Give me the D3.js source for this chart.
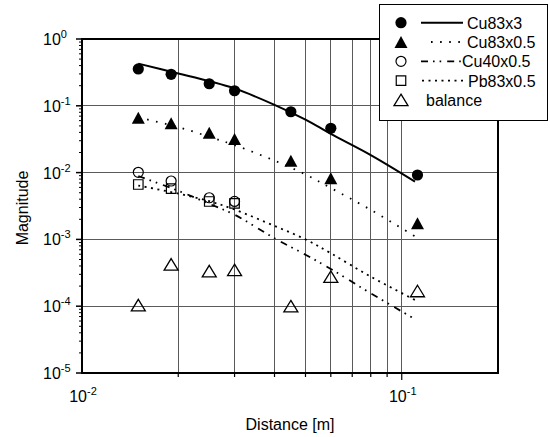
<!DOCTYPE html>
<html><head><meta charset="utf-8">
<script src="https://cdn.jsdelivr.net/npm/d3@7"></script>
<style>
body{margin:0;background:#fff;}
svg{display:block;font-family:"Liberation Sans",Arial,Helvetica,sans-serif;}
</style></head>
<body>
<svg id="chart" width="550" height="437"></svg>
<script>
// ---- data ----
const distances = [0.015, 0.019, 0.025, 0.03, 0.045, 0.06, 0.112];
const cu83x3 = [0.356, 0.296, 0.214, 0.168, 0.0814, 0.046, 0.0092];
const cu83x05 = [0.066, 0.0547, 0.0396, 0.0318, 0.0151, 0.0082, 0.00174];
const cu40x05 = [0.0101, 0.00748, 0.0042, 0.0037];
const pb83x05 = [0.00664, 0.00574, 0.00369, 0.00347];
const balance = [1.04e-4, 4.24e-4, 3.36e-4, 3.49e-4, 1.0e-4, 2.77e-4, 1.69e-4];

const fitDist = [0.015, 0.02, 0.025, 0.03, 0.04, 0.05, 0.06, 0.08, 0.11];
const fitCu83x3 = [0.428, 0.305, 0.234, 0.182, 0.1035, 0.0621, 0.038, 0.0183, 0.00733];
const fitCu83x05 = [0.067, 0.048, 0.0344, 0.0258, 0.0151, 0.0094, 0.00588, 0.00277, 0.00111];
const fitCu40x05 = [0.0089, 0.00534, 0.00341, 0.00234, 0.00104, 0.00059, 0.000361, 0.000156, 0.000064];
const fitPb83x05 = [0.0064, 0.00485, 0.00373, 0.0028, 0.00159, 0.001, 0.00062, 0.000277, 0.000124];

const seriesNames = ["Cu83x3", "Cu83x0.5", "Cu40x0.5", "Pb83x0.5", "balance"];
const xTickExps = [-2, -1];
const yTickExps = [0, -1, -2, -3, -4, -5];
const xTitle = "Distance [m]";
const yTitle = "Magnitude";

// ---- layout ----
const svg = d3.select("#chart");
const L = 82, R = 498, T = 39, B = 373;
const x = d3.scaleLog().domain([0.01, 0.2]).range([L, R]);
const y = d3.scaleLog().domain([1e-5, 1]).range([B, T]);

const g = svg.append("g");

// gridlines
const vGrid = [0.02,0.03,0.04,0.05,0.06,0.07,0.08,0.09,0.1];
g.selectAll(".vg").data(vGrid).join("line")
  .attr("x1", d => x(d)).attr("x2", d => x(d))
  .attr("y1", T).attr("y2", B)
  .attr("stroke", "#5a5a5a").attr("stroke-width", 1).attr("shape-rendering","crispEdges");
const hGrid = [1e-1, 1e-2, 1e-3, 1e-4];
g.selectAll(".hg").data(hGrid).join("line")
  .attr("x1", L).attr("x2", R)
  .attr("y1", d => y(d)).attr("y2", d => y(d))
  .attr("stroke", "#5a5a5a").attr("stroke-width", 1).attr("shape-rendering","crispEdges");

// fit lines
const line = d3.line().x(d => x(d[0])).y(d => y(d[1])).curve(d3.curveCatmullRom.alpha(0.5));
function drawFit(vals, dash, w) {
  g.append("path").datum(fitDist.map((d, i) => [d, vals[i]]))
    .attr("d", line).attr("fill", "none").attr("stroke", "#000")
    .attr("stroke-width", w).attr("stroke-dasharray", dash);
}
drawFit(fitCu83x3, null, 2);
drawFit(fitCu83x05, "1.6,7.5", 1.8);
drawFit(fitCu40x05, "7,5,1.6,5,1.6,6", 1.8);
drawFit(fitPb83x05, "2,4.5", 1.8);

// markers
function triPath(w, h) {
  return `M0,${-h/2}L${w/2},${h/2}L${-w/2},${h/2}Z`;
}
function sqPath(s) { return `M${-s/2},${-s/2}h${s}v${s}h${-s}Z`; }

const markerDefs = [
  {vals: cu83x3, draw: sel => sel.append("circle").attr("r", 5.6).attr("fill", "#000")},
  {vals: cu83x05, draw: sel => sel.append("path").attr("d", triPath(13, 12)).attr("fill", "#000")},
  {vals: cu40x05, draw: sel => sel.append("circle").attr("r", 5).attr("fill", "none").attr("stroke", "#000").attr("stroke-width", 1.2)},
  {vals: pb83x05, draw: sel => sel.append("path").attr("d", sqPath(9.5)).attr("fill", "none").attr("stroke", "#000").attr("stroke-width", 1.2)},
  {vals: balance, draw: sel => sel.append("path").attr("d", triPath(14, 11.5)).attr("fill", "none").attr("stroke", "#000").attr("stroke-width", 1.3)}
];
markerDefs.forEach(m => {
  const pts = m.vals.map((v, i) => [distances[i], v]);
  const sel = g.selectAll(null).data(pts).join("g")
    .attr("transform", d => `translate(${x(d[0])},${y(d[1])})`);
  m.draw(sel);
});

// frame
g.append("rect").attr("x", L).attr("y", T).attr("width", R - L).attr("height", B - T)
  .attr("fill", "none").attr("stroke", "#000").attr("stroke-width", 2);

// y ticks
const yMinor = [];
for (let e = -5; e < 0; e++) for (let k = 2; k <= 9; k++) yMinor.push(k * Math.pow(10, e));
g.selectAll(".ymi").data(yMinor).join("line")
  .attr("x1", L - 3).attr("x2", L).attr("y1", d => y(d)).attr("y2", d => y(d))
  .attr("stroke", "#000").attr("stroke-width", 1);
g.selectAll(".yma").data(yTickExps).join("line")
  .attr("x1", L - 6).attr("x2", L).attr("y1", d => y(Math.pow(10, d))).attr("y2", d => y(Math.pow(10, d)))
  .attr("stroke", "#000").attr("stroke-width", 1.5);
// x ticks
g.selectAll(".xmi").data(vGrid).join("line")
  .attr("x1", d => x(d)).attr("x2", d => x(d)).attr("y1", B).attr("y2", d => B + (d === 0.1 ? 7 : 4))
  .attr("stroke", "#000").attr("stroke-width", 1.2);

// tick labels
const yl = g.selectAll(".yl").data(yTickExps).join("text")
  .attr("x", 43).attr("y", d => y(Math.pow(10, d)) + 6)
  .attr("font-size", 16).attr("fill", "#000");
yl.append("tspan").text("10");
yl.append("tspan").attr("dy", -7).attr("font-size", 11).text(d => d);

const xl = g.selectAll(".xl").data(xTickExps).join("text")
  .attr("x", d => x(Math.pow(10, d)) + 1).attr("y", 402)
  .attr("text-anchor", "middle").attr("font-size", 16).attr("fill", "#000");
xl.append("tspan").text("10");
xl.append("tspan").attr("dy", -7).attr("font-size", 11).text(d => d);

// axis titles
svg.append("text").attr("x", (L + R) / 2).attr("y", 430).attr("text-anchor", "middle")
  .attr("font-size", 16).text(xTitle);
svg.append("text").attr("transform", `translate(28,${(T + B) / 2 + 2}) rotate(-90)`)
  .attr("text-anchor", "middle").attr("font-size", 16).text(yTitle);

// legend
const lg = svg.append("g");
lg.append("rect").attr("x", 379.5).attr("y", 4.5).attr("width", 168).attr("height", 116)
  .attr("fill", "#fff").attr("stroke", "#000").attr("stroke-width", 1);
const rowY = i => 22.7 + i * 19.3;
const legMarkers = [
  s => s.append("circle").attr("r", 5.6).attr("fill", "#000"),
  s => s.append("path").attr("d", triPath(13, 12)).attr("fill", "#000"),
  s => s.append("circle").attr("r", 5).attr("fill", "none").attr("stroke", "#000").attr("stroke-width", 1.2),
  s => s.append("path").attr("d", sqPath(9.5)).attr("fill", "none").attr("stroke", "#000").attr("stroke-width", 1.2),
  s => s.append("path").attr("d", triPath(14, 11.5)).attr("fill", "none").attr("stroke", "#000").attr("stroke-width", 1.3)
];
const legLines = [
  {x1: 421, x2: 463, dash: null, w: 2},
  {x1: 431, x2: 466, dash: "1.6,7.5", w: 1.8},
  {x1: 421, x2: 465, dash: "7,5,1.6,5,1.6,6", w: 1.8},
  {x1: 422, x2: 467, dash: "2,4.5", w: 1.8},
  null
];
const legTextX = [467, 467, 462, 468, 426];
seriesNames.forEach((name, i) => {
  const m = lg.append("g").attr("transform", `translate(401,${rowY(i)})`);
  legMarkers[i](m);
  const ll = legLines[i];
  if (ll) lg.append("line").attr("x1", ll.x1).attr("x2", ll.x2).attr("y1", rowY(i)).attr("y2", rowY(i))
    .attr("stroke", "#000").attr("stroke-width", ll.w).attr("stroke-dasharray", ll.dash);
  lg.append("text").attr("x", legTextX[i]).attr("y", rowY(i) + 6).attr("font-size", 16).text(name);
});
</script>
</body></html>
